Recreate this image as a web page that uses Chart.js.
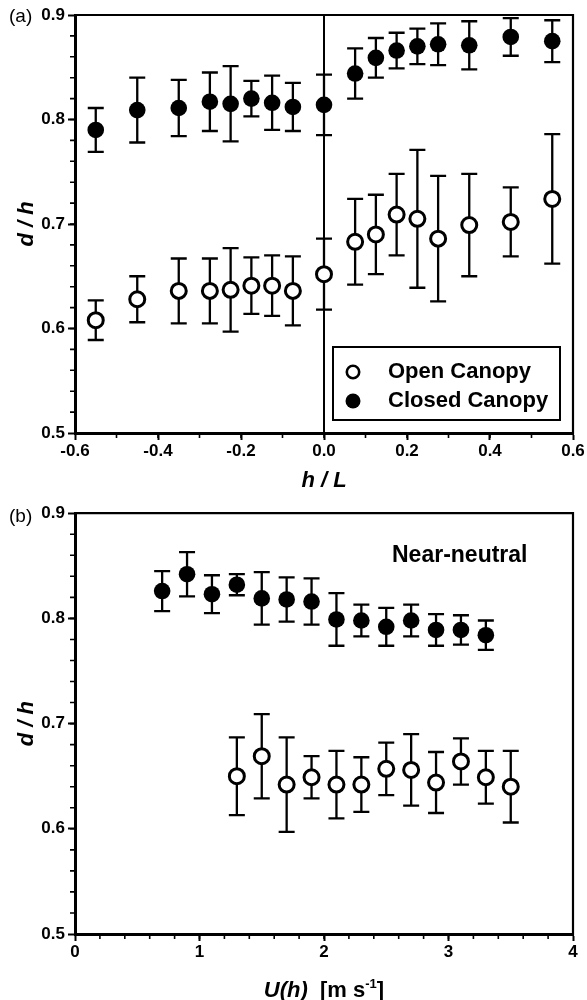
<!DOCTYPE html>
<html>
<head>
<meta charset="utf-8">
<title>Displacement height d/h</title>
<script src="https://cdn.jsdelivr.net/npm/chart.js@4.4.0/dist/chart.umd.min.js"></script>
<style>
  body { margin: 0; background: #fff; }
  canvas { display: block; }
</style>
</head>
<body>
<canvas id="chartStability" width="587" height="500"></canvas>
<canvas id="chartWind" width="587" height="500"></canvas>
<script>
// (a) d/h against stability h/L
var hL = [-0.55, -0.45, -0.35, -0.275, -0.225, -0.175, -0.125, -0.075, 0, 0.075, 0.125, 0.175, 0.225, 0.275, 0.35, 0.45, 0.55];
var openA = [0.608, 0.628, 0.636, 0.636, 0.637, 0.641, 0.641, 0.636, 0.652, 0.683, 0.690, 0.709, 0.705, 0.686, 0.699, 0.702, 0.724];
var openAErr = [0.019, 0.022, 0.031, 0.031, 0.040, 0.027, 0.029, 0.033, 0.034, 0.041, 0.038, 0.039, 0.066, 0.060, 0.049, 0.033, 0.062];
var closedA = [0.790, 0.809, 0.811, 0.817, 0.815, 0.820, 0.816, 0.812, 0.814, 0.844, 0.859, 0.866, 0.870, 0.872, 0.871, 0.879, 0.875];
var closedAErr = [0.021, 0.031, 0.027, 0.028, 0.036, 0.017, 0.026, 0.023, 0.029, 0.024, 0.019, 0.017, 0.017, 0.020, 0.023, 0.018, 0.020];

// (b) d/h against wind speed at canopy top, near-neutral runs
var uOpen = [1.3, 1.5, 1.7, 1.9, 2.1, 2.3, 2.5, 2.7, 2.9, 3.1, 3.3, 3.5];
var openB = [0.650, 0.669, 0.642, 0.649, 0.642, 0.642, 0.657, 0.656, 0.644, 0.664, 0.649, 0.640];
var openBErr = [0.037, 0.040, 0.045, 0.020, 0.032, 0.026, 0.025, 0.034, 0.029, 0.022, 0.025, 0.034];
var uClosed = [0.7, 0.9, 1.1, 1.3, 1.5, 1.7, 1.9, 2.1, 2.3, 2.5, 2.7, 2.9, 3.1, 3.3];
var closedB = [0.826, 0.842, 0.823, 0.832, 0.819, 0.818, 0.816, 0.799, 0.798, 0.792, 0.798, 0.789, 0.789, 0.784];
var closedBErr = [0.019, 0.021, 0.018, 0.010, 0.025, 0.021, 0.022, 0.025, 0.015, 0.018, 0.015, 0.015, 0.014, 0.014];

var seriesNames = ['Open Canopy', 'Closed Canopy'];
var dhTicks = [0.5, 0.9, 0.1];
var hLTicks = [-0.6, 0.6, 0.2];
var uTicks = [0, 4, 1];

var FONT = '"Liberation Sans", Arial, sans-serif';

function pairs(xs, ys) {
    return xs.map(function (x, i) { return { x: x, y: ys[i] }; });
}

function oneDecimal(v) {
    return Math.abs(v) < 1e-9 ? '0.0' : v.toFixed(1);
}

// vertical error bars with caps, drawn under the markers
var errorBars = {
    id: 'errorBars',
    beforeDatasetsDraw(chart) {
        var ctx = chart.ctx, xs = chart.scales.x, ys = chart.scales.y;
        ctx.save();
        ctx.strokeStyle = '#000';
        ctx.lineWidth = 2.3;
        chart.data.datasets.forEach(function (ds) {
            ds.data.forEach(function (p, i) {
                var e = ds.errors[i];
                var x = xs.getPixelForValue(p.x);
                var top = ys.getPixelForValue(p.y + e);
                var bot = ys.getPixelForValue(p.y - e);
                ctx.beginPath();
                ctx.moveTo(x, top); ctx.lineTo(x, bot);
                ctx.moveTo(x - 8, top); ctx.lineTo(x + 8, top);
                ctx.moveTo(x - 8, bot); ctx.lineTo(x + 8, bot);
                ctx.stroke();
            });
        });
        ctx.restore();
    }
};

// top/right box edges, optional zero line and minor ticks
var frame = {
    id: 'frame',
    beforeDatasetsDraw(chart, args, opts) {
        if (opts.zeroLine === undefined) return;
        var ctx = chart.ctx, a = chart.chartArea;
        var x0 = chart.scales.x.getPixelForValue(opts.zeroLine);
        ctx.save();
        ctx.strokeStyle = '#000';
        ctx.lineWidth = 2;
        ctx.beginPath();
        ctx.moveTo(x0, a.top); ctx.lineTo(x0, a.bottom);
        ctx.stroke();
        ctx.restore();
    },
    afterDraw(chart, args, opts) {
        var ctx = chart.ctx, a = chart.chartArea, xs = chart.scales.x, ys = chart.scales.y;
        ctx.save();
        ctx.strokeStyle = '#000';
        ctx.lineWidth = 2.2;
        ctx.beginPath();
        ctx.moveTo(a.left, a.top); ctx.lineTo(a.right, a.top); ctx.lineTo(a.right, a.bottom + 1.5);
        ctx.stroke();

        ctx.lineWidth = 1.6;
        ctx.beginPath();
        var n = Math.round((xs.max - xs.min) / opts.xMinor);
        for (var i = 1; i < n; i++) {
            var px = xs.getPixelForValue(xs.min + i * opts.xMinor);
            ctx.moveTo(px, a.bottom); ctx.lineTo(px, a.bottom + 5);
        }
        n = Math.round((ys.max - ys.min) / opts.yMinor);
        for (i = 1; i < n; i++) {
            var py = ys.getPixelForValue(ys.min + i * opts.yMinor);
            ctx.moveTo(a.left, py); ctx.lineTo(a.left - 5, py);
        }
        ctx.stroke();
        ctx.restore();
    }
};

// free text: panel letters, annotations, multi-style axis title
var notes = {
    id: 'notes',
    afterDraw(chart, args, opts) {
        var ctx = chart.ctx, a = chart.chartArea;
        ctx.save();
        ctx.fillStyle = '#000';
        ctx.textBaseline = 'alphabetic';
        ctx.textAlign = 'left';
        (opts.items || []).forEach(function (t) {
            ctx.font = t.font;
            ctx.fillText(t.text, t.x, t.y);
        });
        if (opts.title) {
            var total = 0;
            opts.title.parts.forEach(function (p) { ctx.font = p.font; total += ctx.measureText(p.text).width; });
            var x = (a.left + a.right) / 2 - total / 2;
            opts.title.parts.forEach(function (p) {
                ctx.font = p.font;
                ctx.fillText(p.text, x, opts.title.y - (p.rise || 0));
                x += ctx.measureText(p.text).width;
            });
        }
        ctx.restore();
    }
};

// boxed legend inside the plot
var boxLegend = {
    id: 'boxLegend',
    afterDraw(chart, args, opts) {
        if (!opts.box) return;
        var ctx = chart.ctx, b = opts.box;
        ctx.save();
        ctx.strokeStyle = '#000';
        ctx.lineWidth = 2;
        ctx.strokeRect(b[0], b[1], b[2], b[3]);
        ctx.font = 'bold 22px ' + FONT;
        ctx.textBaseline = 'middle';
        chart.data.datasets.forEach(function (ds, i) {
            var cy = b[1] + 25 + i * 29;
            ctx.beginPath();
            ctx.arc(b[0] + 20, cy, ds.pointBorderWidth ? 6.2 : 7.5, 0, Math.PI * 2);
            ctx.fillStyle = ds.pointBackgroundColor;
            ctx.fill();
            if (ds.pointBorderWidth) {
                ctx.lineWidth = 2.6;
                ctx.stroke();
            }
            ctx.fillStyle = '#000';
            ctx.fillText(ds.label, b[0] + 55, cy);
        });
        ctx.restore();
    }
};

var tickFont = { family: FONT, size: 17, weight: 'bold' };
var titleFont = { family: FONT, size: 22, weight: 'bold', style: 'italic' };

function openSet(xs, ys, errs) {
    return {
        label: seriesNames[0], data: pairs(xs, ys), errors: errs,
        pointRadius: 7.5, pointBorderWidth: 3,
        pointBackgroundColor: '#fff', pointBorderColor: '#000', showLine: false
    };
}

function closedSet(xs, ys, errs) {
    return {
        label: seriesNames[1], data: pairs(xs, ys), errors: errs,
        pointRadius: 8.3, pointBorderWidth: 0,
        pointBackgroundColor: '#000', pointBorderColor: '#000', showLine: false
    };
}

function yAxis() {
    return {
        min: dhTicks[0], max: dhTicks[1],
        ticks: { stepSize: dhTicks[2], color: '#000', font: tickFont, padding: 3, callback: oneDecimal },
        grid: { drawOnChartArea: false, color: '#000', tickLength: 7, tickWidth: 2 },
        border: { display: true, color: '#000', width: 3 },
        title: { display: true, text: 'd / h', color: '#000', font: titleFont, padding: { top: 14, bottom: 0 } },
        afterFit: function (s) { s.width = 75; }
    };
}

function xAxis(t, fmt, title, h) {
    return {
        type: 'linear', min: t[0], max: t[1],
        ticks: { stepSize: t[2], color: '#000', font: tickFont, padding: 1, maxRotation: 0, autoSkip: false, callback: fmt },
        grid: { drawOnChartArea: false, color: '#000', tickLength: 7, tickWidth: 2 },
        border: { display: true, color: '#000', width: 3 },
        title: { display: !!title, text: title || '', color: '#000', font: titleFont, padding: { top: 0, bottom: 6 } },
        afterFit: function (s) { s.height = h; }
    };
}

var common = {
    responsive: false,
    animation: false,
    devicePixelRatio: 1,
    events: []
};

new Chart(document.getElementById('chartStability'), {
    type: 'scatter',
    data: {
        datasets: [openSet(hL, openA, openAErr), closedSet(hL, closedA, closedAErr)]
    },
    options: Object.assign({}, common, {
        layout: { padding: { top: 15, right: 14, left: 0, bottom: 0 } },
        scales: {
            x: xAxis(hLTicks, oneDecimal, 'h / L', 67),
            y: yAxis()
        },
        plugins: {
            legend: { display: false },
            tooltip: { enabled: false },
            frame: { xMinor: 0.1, yMinor: 0.02, zeroLine: 0 },
            boxLegend: { box: [333, 347, 227, 73] },
            notes: { items: [{ text: '(a)', font: '19px ' + FONT, x: 9, y: 22 }] }
        }
    }),
    plugins: [errorBars, frame, boxLegend, notes]
});

new Chart(document.getElementById('chartWind'), {
    type: 'scatter',
    data: {
        datasets: [openSet(uOpen, openB, openBErr), closedSet(uClosed, closedB, closedBErr)]
    },
    options: Object.assign({}, common, {
        layout: { padding: { top: 13, right: 14, left: 0, bottom: 0 } },
        scales: {
            x: xAxis(uTicks, function (v) { return String(Math.round(v)); }, null, 66),
            y: yAxis()
        },
        plugins: {
            legend: { display: false },
            tooltip: { enabled: false },
            frame: { xMinor: 0.2, yMinor: 0.02 },
            notes: {
                items: [
                    { text: '(b)', font: '19px ' + FONT, x: 9, y: 22 },
                    { text: 'Near-neutral', font: 'bold 23px ' + FONT, x: 392, y: 62 }
                ],
                title: {
                    y: 497,
                    parts: [
                        { text: 'U(h)', font: 'italic bold 22px ' + FONT },
                        { text: '  [m s', font: 'bold 22px ' + FONT },
                        { text: '-1', font: 'bold 13px ' + FONT, rise: 9 },
                        { text: ']', font: 'bold 22px ' + FONT }
                    ]
                }
            }
        }
    }),
    plugins: [errorBars, frame, notes]
});
</script>
</body>
</html>
